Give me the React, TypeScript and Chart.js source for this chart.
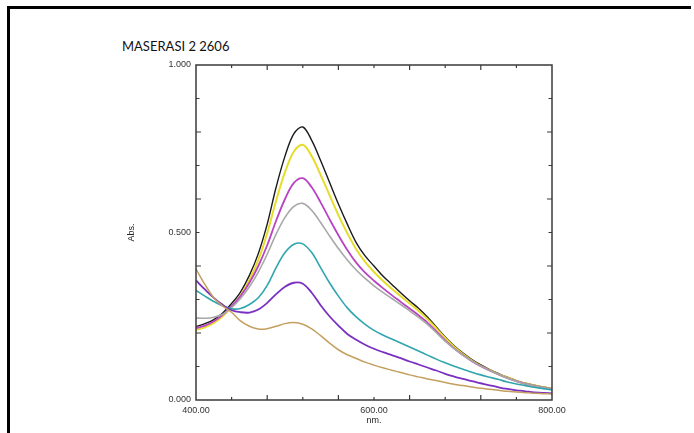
import React, { useEffect, useRef } from 'react';
import { Chart, registerables } from 'chart.js';

Chart.register(...registerables);

const TITLE = 'MASERASI 2 2606';
const X_LABEL = 'nm.';
const Y_LABEL = 'Abs.';

const WAVELENGTHS = [
  400, 410, 420, 430, 440, 450, 460, 470, 480, 490, 500, 510, 520, 530, 540, 550, 560, 570, 580, 590, 600,
  610, 620, 630, 640, 650, 660, 670, 680, 690, 700, 710, 720, 730, 740, 750, 760, 770, 780, 790, 800,
];

const BLACK = [
  0.219, 0.228, 0.240, 0.260, 0.288, 0.322, 0.372, 0.437, 0.525, 0.635, 0.728, 0.795, 0.815, 0.775, 0.715, 0.650, 0.585, 0.525, 0.470, 0.430, 0.400,
  0.370, 0.345, 0.320, 0.296, 0.274, 0.248, 0.218, 0.188, 0.162, 0.140, 0.121, 0.105, 0.091, 0.079, 0.068, 0.058, 0.050, 0.044, 0.039, 0.034,
];
const YELLOW = [
  0.209, 0.217, 0.230, 0.250, 0.278, 0.312, 0.358, 0.418, 0.498, 0.595, 0.680, 0.742, 0.762, 0.728, 0.672, 0.612, 0.552, 0.498, 0.450, 0.412, 0.382,
  0.356, 0.332, 0.310, 0.288, 0.266, 0.242, 0.214, 0.185, 0.159, 0.137, 0.118, 0.102, 0.089, 0.077, 0.067, 0.057, 0.049, 0.043, 0.038, 0.033,
];
const MAGENTA = [
  0.214, 0.222, 0.235, 0.254, 0.280, 0.310, 0.350, 0.400, 0.462, 0.535, 0.600, 0.648, 0.662, 0.635, 0.590, 0.540, 0.492, 0.448, 0.410, 0.380, 0.356,
  0.334, 0.313, 0.293, 0.273, 0.253, 0.231, 0.205, 0.178, 0.154, 0.134, 0.116, 0.101, 0.088, 0.076, 0.065, 0.056, 0.048, 0.042, 0.037, 0.032,
];
const GRAY = [
  0.245, 0.244, 0.247, 0.256, 0.276, 0.303, 0.338, 0.382, 0.435, 0.495, 0.545, 0.578, 0.587, 0.566, 0.530, 0.490, 0.452, 0.418, 0.388, 0.363, 0.341,
  0.321, 0.303, 0.285, 0.266, 0.247, 0.226, 0.201, 0.176, 0.153, 0.133, 0.116, 0.101, 0.088, 0.076, 0.065, 0.056, 0.048, 0.042, 0.037, 0.032,
];
const TEAL = [
  0.327, 0.310, 0.294, 0.281, 0.272, 0.273, 0.285, 0.305, 0.342, 0.395, 0.440, 0.465, 0.466, 0.440, 0.395, 0.350, 0.310, 0.275, 0.248, 0.226, 0.208,
  0.194, 0.182, 0.170, 0.158, 0.146, 0.134, 0.122, 0.111, 0.101, 0.092, 0.083, 0.075, 0.068, 0.061, 0.054, 0.048, 0.043, 0.038, 0.034, 0.030,
];
const PURPLE = [
  0.357, 0.330, 0.305, 0.284, 0.268, 0.262, 0.261, 0.270, 0.290, 0.316, 0.338, 0.350, 0.347, 0.320, 0.283, 0.250, 0.222, 0.197, 0.180, 0.165, 0.153,
  0.143, 0.134, 0.125, 0.115, 0.106, 0.097, 0.088, 0.078, 0.070, 0.063, 0.056, 0.050, 0.044, 0.038, 0.033, 0.029, 0.026, 0.023, 0.021, 0.020,
];
const TAN = [
  0.391, 0.345, 0.305, 0.280, 0.262, 0.236, 0.220, 0.212, 0.213, 0.220, 0.228, 0.231, 0.226, 0.212, 0.192, 0.170, 0.150, 0.135, 0.124, 0.113, 0.104,
  0.096, 0.089, 0.082, 0.075, 0.069, 0.063, 0.058, 0.052, 0.047, 0.043, 0.039, 0.035, 0.032, 0.029, 0.026, 0.024, 0.022, 0.020, 0.019, 0.018,
];

const X_TICKS = [400, 600, 800];
const Y_TICKS = [0, 0.5, 1];
const X_MINOR = [440, 480, 520, 560, 600, 640, 680, 720, 760];
const Y_MINOR = [0.1, 0.2, 0.3, 0.4, 0.5, 0.6, 0.7, 0.8, 0.9];

const SERIES = [
  { name: 'tan', data: TAN, color: '#c4a060', width: 1.5 },
  { name: 'purple', data: PURPLE, color: '#7a30c0', width: 1.8 },
  { name: 'teal', data: TEAL, color: '#2fa6ae', width: 1.6 },
  { name: 'gray', data: GRAY, color: '#a8a8a8', width: 1.6 },
  { name: 'magenta', data: MAGENTA, color: '#b844c4', width: 1.8 },
  { name: 'yellow', data: YELLOW, color: '#e6dc2c', width: 2 },
  { name: 'black', data: BLACK, color: '#1a1a1a', width: 1.4 },
];

const frameTicks = {
  id: 'frameTicks',
  afterDatasetsDraw(chart: any) {
    const { ctx, chartArea, scales } = chart;
    const { left, right, top, bottom } = chartArea;
    const x = scales.x;
    const y = scales.y;
    ctx.save();
    ctx.strokeStyle = '#3a3a3a';
    ctx.lineWidth = 1.5;
    ctx.strokeRect(left, top, right - left, bottom - top);
    ctx.lineWidth = 1.2;
    ctx.beginPath();
    X_MINOR.forEach((v, i) => {
      const px = x.getPixelForValue(v);
      const len = i % 2 === 1 ? 5 : 3;
      ctx.moveTo(px, bottom);
      ctx.lineTo(px, bottom - len);
      ctx.moveTo(px, top);
      ctx.lineTo(px, top + len);
    });
    Y_MINOR.forEach((v, i) => {
      const py = y.getPixelForValue(v);
      const len = i % 2 === 1 ? 5 : 3.5;
      ctx.moveTo(left, py);
      ctx.lineTo(left + len, py);
      ctx.moveTo(right, py);
      ctx.lineTo(right - len, py);
    });
    ctx.stroke();
    ctx.restore();
  },
};

export default function App() {
  const canvasRef = useRef<HTMLCanvasElement | null>(null);

  useEffect(() => {
    if (!canvasRef.current) return;
    const font = { family: '"Liberation Sans", Arial, sans-serif', size: 9 };
    const chart = new Chart(canvasRef.current, {
      type: 'line',
      data: {
        datasets: SERIES.map((s) => ({
          label: s.name,
          data: WAVELENGTHS.map((w, i) => ({ x: w, y: s.data[i] })),
          borderColor: s.color,
          borderWidth: s.width,
          pointRadius: 0,
          tension: 0.35,
          fill: false,
        })),
      },
      options: {
        responsive: false,
        animation: false,
        events: [],
        layout: { padding: { left: 120, top: 65, right: 142, bottom: 0 } },
        plugins: { legend: { display: false }, title: { display: false }, tooltip: { enabled: false } },
        scales: {
          x: {
            type: 'linear',
            min: 400,
            max: 800,
            afterFit: (s: any) => {
              s.height = 33;
            },
            afterBuildTicks: (s: any) => {
              s.ticks = X_TICKS.map((v) => ({ value: v }));
            },
            ticks: {
              callback: (v: any) => Number(v).toFixed(2),
              font,
              color: '#333',
              padding: 5.5,
              maxRotation: 0,
              autoSkip: false,
            },
            grid: { display: false, drawTicks: false },
            border: { display: false },
            title: { display: true, text: X_LABEL, font, color: '#222', padding: { top: 0, bottom: 6.6 } },
          },
          y: {
            type: 'linear',
            min: 0,
            max: 1,
            afterFit: (s: any) => {
              s.width = 76;
            },
            afterBuildTicks: (s: any) => {
              s.ticks = Y_TICKS.map((v) => ({ value: v }));
            },
            ticks: {
              callback: (v: any) => Number(v).toFixed(3),
              font,
              color: '#333',
              padding: 5,
              autoSkip: false,
            },
            grid: { display: false, drawTicks: false },
            border: { display: false },
            title: { display: true, text: Y_LABEL, font, color: '#222', padding: { top: 6.6, bottom: 0 } },
          },
        },
      },
      plugins: [frameTicks],
    } as any);
    return () => chart.destroy();
  }, []);

  return (
    <div
      style={{
        position: 'fixed',
        left: 0,
        top: 0,
        width: 694,
        height: 433,
        overflow: 'hidden',
        background: '#fff',
      }}
    >
      <div
        style={{
          position: 'absolute',
          left: 7,
          top: 6,
          width: 684,
          height: 500,
          borderTop: '3px solid #000',
          borderLeft: '3px solid #000',
          boxSizing: 'border-box',
        }}
      />
      <div
        style={{
          position: 'absolute',
          left: 122,
          top: 38,
          fontFamily: 'Lato, "Open Sans", sans-serif',
          fontSize: 13,
          lineHeight: '16px',
          color: '#111',
          whiteSpace: 'nowrap',
        }}
      >
        {TITLE}
      </div>
      <canvas
        ref={canvasRef}
        width={694}
        height={433}
        style={{ position: 'absolute', left: 0, top: 0, display: 'block', width: 694, height: 433 }}
      />
    </div>
  );
}
